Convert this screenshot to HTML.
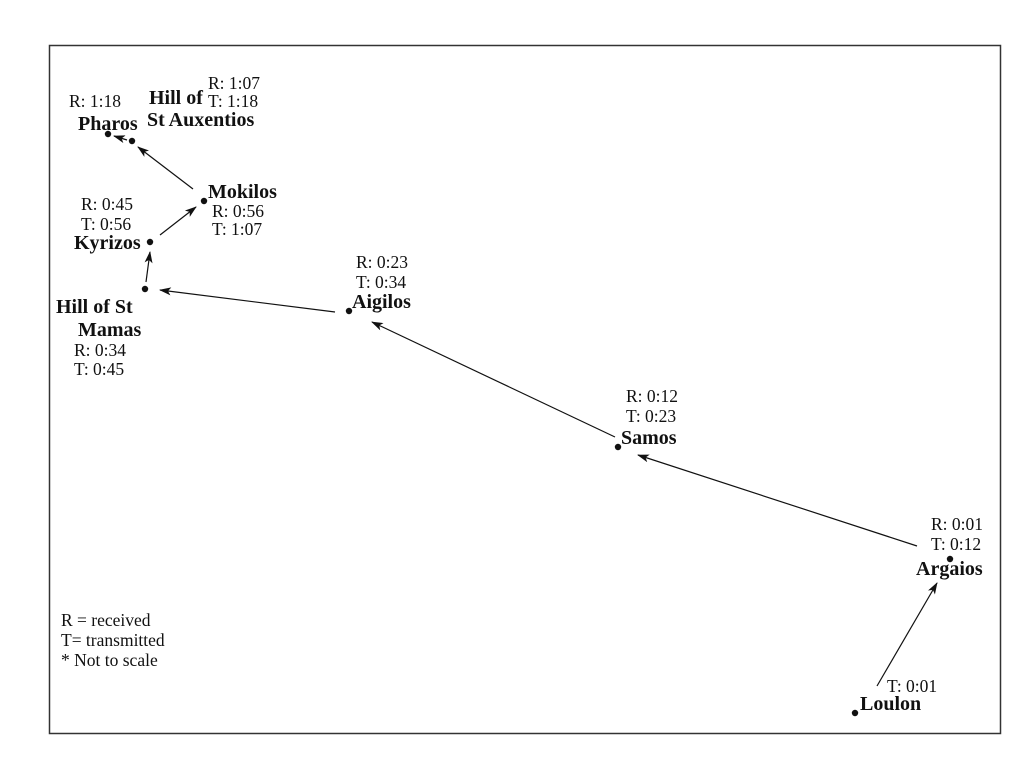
<!DOCTYPE html>
<html><head><meta charset="utf-8"><style>
body{margin:0;background:#fff;}
svg{display:block;}
text{font-family:"Liberation Serif",serif;fill:#111;}
.b{font-weight:bold;font-size:20px;}
.r{font-size:17.5px;}
</style></head><body>
<svg width="1024" height="768" viewBox="0 0 1024 768">
<defs><marker id="a" markerWidth="12" markerHeight="8" refX="11" refY="4" orient="auto" markerUnits="userSpaceOnUse"><path d="M0,0 L12,4 L0,8 L3,4 z" fill="#111"/></marker></defs>
<rect x="49.5" y="45.5" width="951" height="688" fill="none" stroke="#333" stroke-width="1.5"/>
<g stroke="#111" stroke-width="1.2" marker-end="url(#a)">
<line x1="877" y1="686" x2="937" y2="583"/>
<line x1="917" y1="546" x2="638" y2="455"/>
<line x1="615" y1="437" x2="372" y2="322"/>
<line x1="335" y1="312" x2="160" y2="290"/>
<line x1="146" y1="282" x2="150" y2="252"/>
<line x1="160" y1="235" x2="196" y2="207"/>
<line x1="193" y1="189" x2="138" y2="147"/>
<line x1="127" y1="140" x2="114" y2="136"/>
</g>
<g fill="#111">
<circle cx="108" cy="134" r="3.2"/><circle cx="132" cy="141" r="3.2"/><circle cx="204" cy="201" r="3.2"/>
<circle cx="150" cy="242" r="3.2"/><circle cx="145" cy="289" r="3.2"/><circle cx="349" cy="311" r="3.2"/>
<circle cx="618" cy="447" r="3.2"/><circle cx="950" cy="559" r="3.2"/><circle cx="855" cy="713" r="3.2"/>
</g>
<text class="r" x="69" y="107">R: 1:18</text>
<text class="b" x="78" y="130">Pharos</text>
<text class="b" x="149" y="104">Hill of</text>
<text class="r" x="208" y="89">R: 1:07</text>
<text class="r" x="208" y="107">T: 1:18</text>
<text class="b" x="147" y="126">St Auxentios</text>
<text class="b" x="208" y="198">Mokilos</text>
<text class="r" x="212" y="217">R: 0:56</text>
<text class="r" x="212" y="235">T: 1:07</text>
<text class="r" x="81" y="210">R: 0:45</text>
<text class="r" x="81" y="230">T: 0:56</text>
<text class="b" x="74" y="249">Kyrizos</text>
<text class="b" x="56" y="313">Hill of St</text>
<text class="b" x="78" y="336">Mamas</text>
<text class="r" x="74" y="356">R: 0:34</text>
<text class="r" x="74" y="375">T: 0:45</text>
<text class="r" x="356" y="268">R: 0:23</text>
<text class="r" x="356" y="288">T: 0:34</text>
<text class="b" x="352" y="308">Aigilos</text>
<text class="r" x="626" y="402">R: 0:12</text>
<text class="r" x="626" y="422">T: 0:23</text>
<text class="b" x="621" y="444">Samos</text>
<text class="r" x="931" y="530">R: 0:01</text>
<text class="r" x="931" y="550">T: 0:12</text>
<text class="b" x="916" y="575">Argaios</text>
<text class="r" x="887" y="692">T: 0:01</text>
<text class="b" x="860" y="710">Loulon</text>
<text class="r" x="61" y="626">R = received</text>
<text class="r" x="61" y="646">T= transmitted</text>
<text class="r" x="61" y="666">* Not to scale</text>
</svg>
</body></html>
